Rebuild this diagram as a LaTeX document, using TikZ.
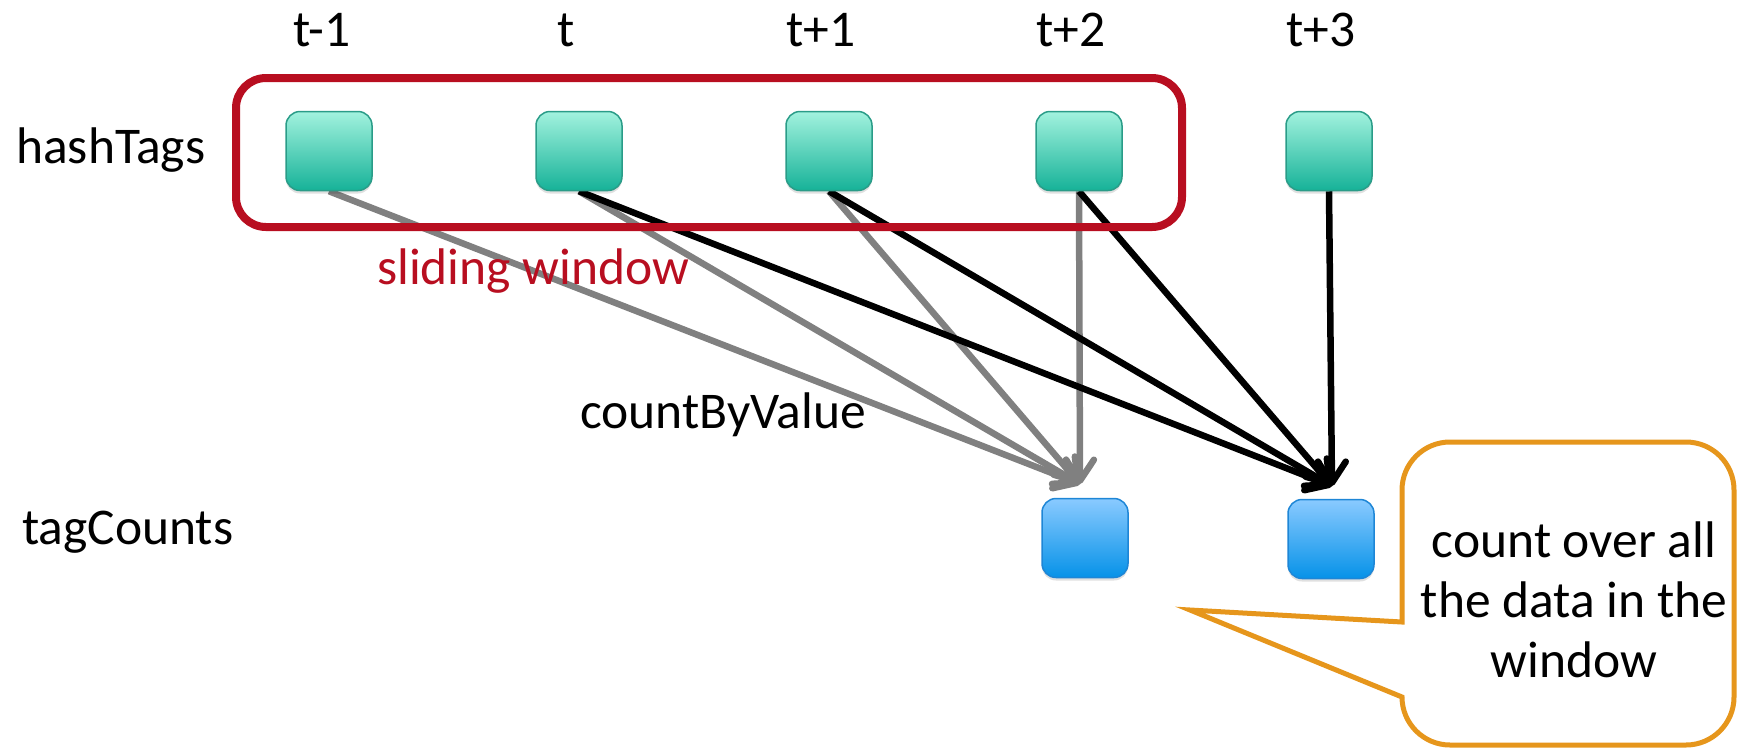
\documentclass[tikz,border=0pt]{standalone}
\usepackage{fontspec}
\setmainfont{Carlito}
\usetikzlibrary{arrows.meta}
\definecolor{winred}{RGB}{184,14,32}
\definecolor{callorange}{RGB}{230,150,28}
\definecolor{tealtop}{RGB}{162,242,222}
\definecolor{tealbot}{RGB}{22,178,152}
\definecolor{tealedge}{RGB}{42,156,136}
\definecolor{bluetop}{RGB}{138,202,255}
\definecolor{bluebot}{RGB}{6,146,232}
\definecolor{blueedge}{RGB}{30,134,214}
\definecolor{arrgray}{RGB}{128,128,128}
\pgfdeclarelayer{bg}
\pgfsetlayers{bg,main}
\begin{document}
\begin{tikzpicture}[x=1pt,y=-1pt,
  lbl/.style={font=\fontsize{51.5}{60}\selectfont, inner sep=0pt},
  sqbox/.style={line width=1.5pt, rounded corners=14pt, minimum width=86pt, minimum height=79pt, inner sep=0pt,
    preaction={fill=black, fill opacity=0.12, draw=none, transform canvas={yshift=-3pt}}},
  hbox/.style={sqbox, draw=tealedge, top color=tealtop, bottom color=tealbot},
  cbox/.style={sqbox, draw=blueedge, top color=bluetop, bottom color=bluebot},
  flowg/.style={draw=arrgray, line width=6.5pt, -{Straight Barb[length=21pt,width=28pt,round]}},
  flowk/.style={draw=black, line width=6.5pt, -{Straight Barb[length=21pt,width=28pt,round]}},
  window/.style={draw=winred, line width=8pt, rounded corners=30pt},
  callout/.style={draw=callorange, line width=5pt, fill=white}
]
\useasboundingbox (0,0) rectangle (1740,748);

% hashTags row
\node[hbox] (h1) at (329,151) {};
\node[hbox] (h2) at (579,151) {};
\node[hbox] (h3) at (829,151) {};
\node[hbox] (h4) at (1079,151) {};
\node[hbox] (h5) at (1329,151) {};

% tagCounts row
\node[cbox] (c1) at (1085,538) {};
\node[cbox] (c2) at (1331,539) {};

\coordinate (c1in) at (1080,484);
\coordinate (c2in) at (1332,486);

% time labels
\node[lbl, anchor=base] (tm1) at (322,46) {t-1};
\node[lbl, anchor=base] (t0) at (566,46) {t};
\node[lbl, anchor=base] (tp1) at (821,46) {t+1};
\node[lbl, anchor=base] (tp2) at (1071,46) {t+2};
\node[lbl, anchor=base] (tp3) at (1321,46) {t+3};

% row labels
\node[lbl, anchor=base west] (lh) at (16,163) {hashTags};
\node[lbl, anchor=base west] (lt) at (22,544) {tagCounts};
\node[lbl, anchor=base west] (lcv) at (580,428) {countByValue};

% arrows
\begin{pgfonlayer}{bg}
\draw[flowg] (h1.south) -- (c1in);
\draw[flowg] (h2.south) -- (c1in);
\draw[flowg] (h3.south) -- (c1in);
\draw[flowg] (h4.south) -- (c1in);
\draw[flowk] (h2.south) -- (c2in);
\draw[flowk] (h3.south) -- (c2in);
\draw[flowk] (h4.south) -- (c2in);
\draw[flowk] (h5.south) -- (c2in);
\end{pgfonlayer}

% sliding window
\draw[window] (236,78) rectangle (1182,227);
\node[lbl, anchor=base west, text=winred] (lsw) at (377,284) {sliding window};

% callout
\draw[callout] (1402,622) [rounded corners=48pt] -- (1402,442) -- (1734,442) -- (1734,745) -- (1402,745) [sharp corners] -- (1402,697) -- (1190,610) -- cycle;
\node[lbl, align=center] (ctext) at (1574,600) {count over all\\the data in the\\window};
\end{tikzpicture}
\end{document}
